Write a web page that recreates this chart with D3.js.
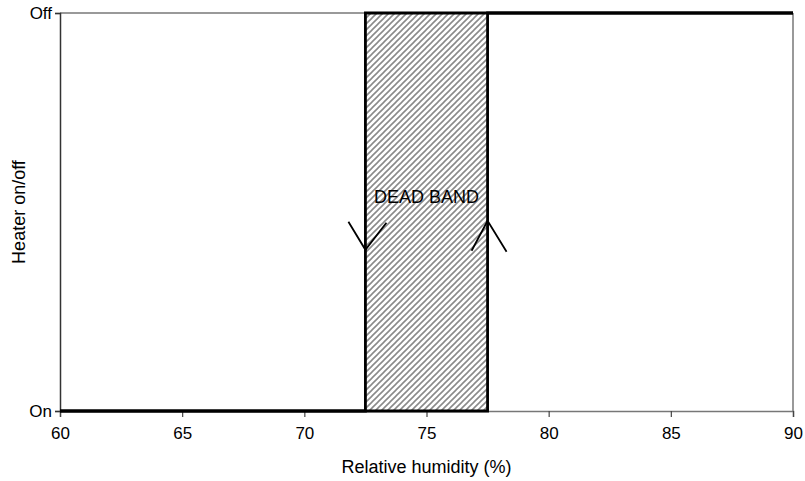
<!DOCTYPE html>
<html><head><meta charset="utf-8">
<script src="https://cdn.jsdelivr.net/npm/d3@7/dist/d3.min.js"></script>
<style>body{margin:0;background:#fff}svg{display:block}text{font-family:"Liberation Sans",Arial,sans-serif;fill:#000}</style>
</head><body><svg id="c" width="805" height="481"></svg>
<script>
// Data
const xTicks = [60, 65, 70, 75, 80, 85, 90];
const yCategories = ["On", "Off"];
const yValues = [0, 1];
const risingX = [60, 77.5, 77.5, 90];
const risingY = [0, 0, 1, 1];
const fallingX = [90, 72.5, 72.5, 60];
const fallingY = [1, 1, 0, 0];
const deadBand = [72.5, 77.5];
const deadBandLabel = "DEAD BAND";
const xTitle = "Relative humidity (%)";
const yTitle = "Heater on/off";
// arrow annotations: x position (data), tip y (data fraction), direction
const arrowX = [72.5, 77.5];
const arrowTipY = [0.405, 0.478];
const arrowDir = [-1, 1];

const svg = d3.select("#c");
const m = {l: 60, r: 12, t: 13, b: 70};
const W = 805, H = 481;
const x = d3.scaleLinear().domain([60, 90]).range([m.l, W - m.r]);
const y = d3.scaleLinear().domain([0, 1]).range([H - m.b, m.t]);

// hatch pattern
const defs = svg.append("defs");
const pat = defs.append("pattern").attr("id", "hatch").attr("patternUnits", "userSpaceOnUse")
  .attr("width", 6).attr("height", 6);
pat.append("path").attr("d", "M-1,1 L1,-1 M0,6 L6,0 M5,7 L7,5")
  .attr("stroke", "#8a8a8a").attr("stroke-width", 1.6);

svg.append("rect")
  .attr("x", x(deadBand[0])).attr("y", y(1))
  .attr("width", x(deadBand[1]) - x(deadBand[0])).attr("height", y(0) - y(1))
  .attr("fill", "url(#hatch)");

// frame (top and right)
svg.append("line").attr("x1", x(60)).attr("x2", x(90)).attr("y1", y(1)).attr("y2", y(1))
  .attr("stroke", "#777").attr("stroke-width", 1.5);
svg.append("line").attr("x1", x(90)).attr("x2", x(90)).attr("y1", y(1)).attr("y2", y(0))
  .attr("stroke", "#777").attr("stroke-width", 1.5);

// axes
const xAxis = d3.axisBottom(x).tickValues(xTicks).tickSize(6).tickPadding(10).tickFormat(d3.format("d"));
const gx = svg.append("g").attr("transform", `translate(0,${y(0)})`).call(xAxis);
gx.attr("font-size", 17).attr("font-family", "Liberation Sans, Arial, sans-serif");
gx.select(".domain").attr("stroke", "#777").attr("stroke-width", 1.5);
gx.selectAll(".tick line").attr("stroke", "#444").attr("stroke-width", 1.2);

const yAxis = d3.axisLeft(y).tickValues(yValues).tickSize(5).tickPadding(3).tickFormat((d, i) => yCategories[i]);
const gy = svg.append("g").attr("transform", `translate(${x(60)},0)`).call(yAxis);
gy.attr("font-size", 17).attr("font-family", "Liberation Sans, Arial, sans-serif");
gy.select(".domain").attr("stroke", "#333").attr("stroke-width", 1.5);
gy.selectAll(".tick line").attr("stroke", "#333").attr("stroke-width", 1.2);

// data lines
const line = d3.line().x(d => x(d[0])).y(d => y(d[1]));
svg.append("path").datum(risingX.map((v, i) => [v, risingY[i]])).attr("d", line)
  .attr("fill", "none").attr("stroke", "#000").attr("stroke-width", 2.8);
svg.append("path").datum(fallingX.map((v, i) => [v, fallingY[i]])).attr("d", line)
  .attr("fill", "none").attr("stroke", "#000").attr("stroke-width", 2.8);

// arrows
arrowX.forEach((ax, i) => {
  const tx = x(ax), ty = y(arrowTipY[i]), d = arrowDir[i];
  const p = d < 0
    ? `M${tx - 17},${ty - 28} L${tx},${ty} L${tx + 21},${ty - 27}`
    : `M${tx - 16},${ty + 30} L${tx},${ty} L${tx + 19},${ty + 31}`;
  svg.append("path").attr("d", p).attr("fill", "none").attr("stroke", "#000").attr("stroke-width", 1.8);
});

// labels
svg.append("text").attr("x", x((deadBand[0] + deadBand[1]) / 2)).attr("y", 203)
  .attr("text-anchor", "middle").attr("font-size", 18).text(deadBandLabel);
svg.append("text").attr("x", (x(60) + x(90)) / 2).attr("y", 473)
  .attr("text-anchor", "middle").attr("font-size", 18).text(xTitle);
svg.append("text").attr("transform", `translate(25,${(y(0) + y(1)) / 2}) rotate(-90)`)
  .attr("text-anchor", "middle").attr("font-size", 18).text(yTitle);
</script></body></html>
